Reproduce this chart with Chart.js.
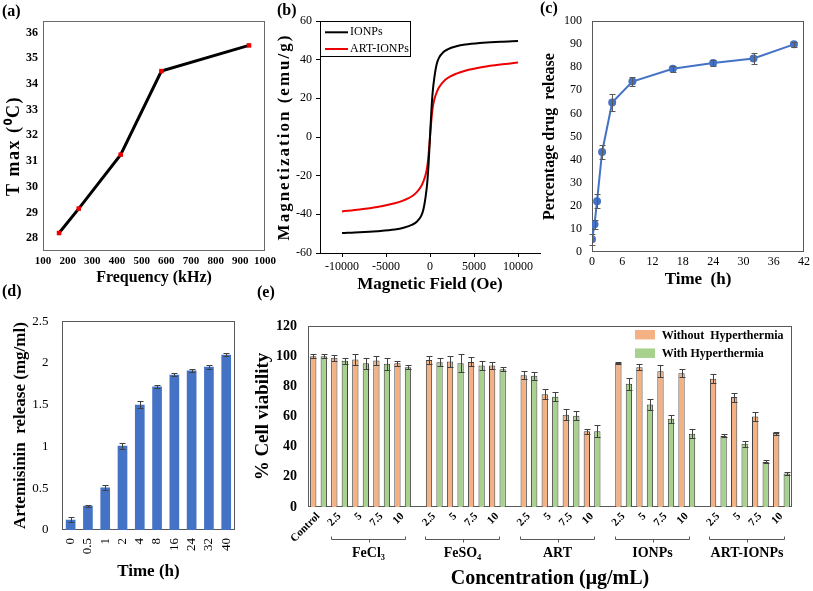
<!DOCTYPE html>
<html><head><meta charset="utf-8">
<script src="https://cdn.jsdelivr.net/npm/chart.js@4.4.1/dist/chart.umd.min.js"></script>
<style>
html,body{margin:0;padding:0;background:#fff}
#wrap{position:relative;width:813px;height:591px;overflow:hidden;background:#fff}
canvas{position:absolute}
.pl{position:absolute;font:bold 16px 'Liberation Serif',serif;line-height:16px;color:#000}
</style></head><body><div id="wrap">
<canvas id="cA" width="280" height="292" style="left:0;top:0"></canvas>
<canvas id="cB" width="272" height="300" style="left:270px;top:0"></canvas>
<canvas id="cC" width="273" height="300" style="left:540px;top:0"></canvas>
<canvas id="cD" width="250" height="291" style="left:0;top:300px"></canvas>
<canvas id="cE" width="563" height="291" style="left:250px;top:300px"></canvas>
<div class="pl" style="left:2px;top:3px">(a)</div>
<div class="pl" style="left:277px;top:2px">(b)</div>
<div class="pl" style="left:540px;top:0px">(c)</div>
<div class="pl" style="left:2px;top:283px">(d)</div>
<div class="pl" style="left:257px;top:284px">(e)</div>
</div>
<script>
// ---------- DATA ----------
// (a) Tmax vs frequency
const freqKHz = [165, 245, 415, 580, 935];
const tmaxC = [28.2, 29.15, 31.25, 34.5, 35.5];
const freqTicks = [100, 200, 300, 400, 500, 600, 700, 800, 900, 1000];
const tmaxTicks = [28, 29, 30, 31, 32, 33, 34, 35, 36];

// (b) magnetization curves
const seriesB = ['IONPs', 'ART-IONPs'];
const fieldOe = [-10000,-8000,-6000,-4000,-3000,-2000,-1500,-1000,-750,-500,-300,-150,0,150,300,500,750,1000,1500,2000,3000,4000,6000,8000,10000];
const magIONPs = [-49.7,-49.3,-48.7,-47.8,-46.9,-45.3,-43.8,-40.8,-37.5,-31,-23,-13,0,13,23,31,37.5,40.8,43.8,45.3,46.9,47.8,48.7,49.3,49.7];
const magArtIONPs = [-38.5,-37.5,-36.2,-34.3,-32.8,-30.5,-28.5,-25.5,-23,-19.5,-15,-8.5,0,8.5,15,19.5,23,25.5,28.5,30.5,32.8,34.3,36.2,37.5,38.5];
const fieldTicks = [-10000, -5000, 0, 5000, 10000];

// (c) percentage drug release
const releaseTimeH = [0, 0.5, 1, 2, 4, 8, 16, 24, 32, 40];
const releasePct = [5.5, 12, 22, 43.3, 64.7, 73.8, 79.3, 81.8, 83.8, 89.9];
const releasePctErr = [2.5, 2, 3, 3, 3.5, 1.8, 1.3, 1.3, 2.2, 1.2];

// (d) artemisinin release
const artTimeLabels = ['0','0.5','1','2','4','8','16','24','32','40'];
const artRelease = [0.124, 0.29, 0.51, 1.01, 1.50, 1.72, 1.86, 1.91, 1.955, 2.10];
const artReleaseErr = [0.03, 0.015, 0.03, 0.035, 0.04, 0.02, 0.015, 0.015, 0.025, 0.015];

// (e) cell viability
const seriesE = ['Without  Hyperthermia', 'With Hyperthermia'];
const controlLabel = 'Control';
const controlWithout = 100, controlWithoutErr = 1.5;
const controlWith = 100, controlWithErr = 1.5;
const viabGroups = ['FeCl₃', 'FeSO₄', 'ART', 'IONPs', 'ART-IONPs'];
const concLabels = ['2.5', '5', '7.5', '10'];
const viabWithout = [[99, 97.8, 97.1, 95.3], [97.4, 96.4, 96.2, 93.8], [87.4, 74.8, 61.2, 50.2], [95.5, 92.7, 90, 88.7], [85, 72.9, 60, 49]];
const viabWithoutErr = [[2, 3.5, 3, 1.5], [2.5, 3.5, 3, 2.5], [2.5, 3.5, 3.5, 1.5], [0.5, 2, 4, 2.5], [3, 3, 3, 1]];
const viabWith = [[96.9, 95.3, 94.9, 92.7], [96, 95.3, 93.8, 91.4], [87, 73.1, 60.5, 50.2], [81.7, 68, 58.5, 48.6], [47.1, 42, 29.9, 22.2]];
const viabWithErr = [[2, 3.5, 4, 1.5], [2.5, 6, 3, 1.5], [2.5, 3, 3, 4], [4, 3.5, 2.5, 3], [1, 2, 1, 1]];

// ---------- PLUGINS ----------
const FONT = 'Liberation Serif';
Chart.defaults.font.family = FONT;
Chart.defaults.color = '#000';
const f = (size, bold) => ({family: FONT, size: size, weight: bold ? 'bold' : 'normal'});
const plain = v => String(v);
const fixedTicks = arr => (s => { s.ticks = arr.map(v => ({value: v})); });

const framePlugin = {id: 'frame', beforeDatasetsDraw(chart, args, o) {
  if (!o || !o.color) return;
  const {left, top, right, bottom} = chart.chartArea, ctx = chart.ctx;
  ctx.save(); ctx.strokeStyle = o.color; ctx.lineWidth = 1;
  ctx.strokeRect(Math.round(left) + 0.5, Math.round(top) + 0.5, Math.round(right - left) - 1, Math.round(bottom - top) - 1);
  ctx.restore();
}};

const errPlugin = {id: 'errbars', afterDatasetsDraw(chart) {
  const ctx = chart.ctx;
  chart.data.datasets.forEach((ds, di) => {
    if (!ds.errors) return;
    const meta = chart.getDatasetMeta(di);
    const ys = chart.scales[meta.yAxisID];
    ctx.save(); ctx.strokeStyle = ds.errorColor || '#404040'; ctx.lineWidth = 1;
    meta.data.forEach((el, i) => {
      const v = ds.data[i], e = ds.errors[i];
      if (v == null || e == null) return;
      const val = typeof v === 'object' ? v.y : v;
      const x = Math.round(el.x) + 0.5;
      const y1 = Math.round(ys.getPixelForValue(val + e)) + 0.5, y2 = Math.round(ys.getPixelForValue(val - e)) + 0.5;
      const w = ds.capWidth || 3;
      ctx.beginPath();
      ctx.moveTo(x, y1); ctx.lineTo(x, y2);
      ctx.moveTo(x - w, y1); ctx.lineTo(x + w, y1);
      ctx.moveTo(x - w, y2); ctx.lineTo(x + w, y2);
      ctx.stroke();
    });
    ctx.restore();
  });
}};

const vtitlePlugin = {id: 'vtitle', afterDraw(chart, args, o) {
  if (!o || !o.text) return;
  const ctx = chart.ctx, a = chart.chartArea;
  ctx.save(); ctx.font = o.font; ctx.fillStyle = '#000';
  ctx.letterSpacing = (o.spacing || 0) + 'px';
  ctx.textAlign = 'center'; ctx.textBaseline = 'middle';
  ctx.translate(o.x, (a.top + a.bottom) / 2 + (o.dy || 0));
  ctx.rotate(-Math.PI / 2);
  ctx.fillText(o.text, 0, 0);
  ctx.restore();
}};

const legendPlugin = {id: 'boxlegend', afterDraw(chart, args, o) {
  if (!o || !o.kind) return;
  const ctx = chart.ctx;
  ctx.save();
  if (o.box) { ctx.strokeStyle = '#000'; ctx.lineWidth = 1; ctx.strokeRect(o.box[0], o.box[1], o.box[2], o.box[3]); }
  chart.data.datasets.forEach((ds, i) => {
    const y = o.y0 + i * o.dy;
    if (o.kind === 'line') {
      ctx.strokeStyle = ds.borderColor; ctx.lineWidth = 2;
      ctx.beginPath(); ctx.moveTo(o.x0, y); ctx.lineTo(o.x0 + o.sw, y); ctx.stroke();
    } else {
      ctx.fillStyle = ds.backgroundColor; ctx.fillRect(o.x0, y - o.sh / 2, o.sw, o.sh);
    }
    ctx.fillStyle = '#000'; ctx.font = o.font; ctx.textBaseline = 'middle'; ctx.textAlign = 'left';
    ctx.fillText(ds.label, o.x0 + o.sw + o.gap, y + (o.ty || 0));
  });
  ctx.restore();
}};

const bracketPlugin = {id: 'brackets', afterDraw(chart, args, o) {
  if (!o || !o.groups) return;
  const ctx = chart.ctx, xs = chart.scales.x;
  const slot = xs.getPixelForValue(1) - xs.getPixelForValue(0);
  ctx.save();
  o.groups.forEach(g => {
    const x1 = Math.round(xs.getPixelForValue(g.first) - 0.35 * slot) + 0.5;
    const x2 = Math.round(xs.getPixelForValue(g.last) - 0.3 * slot) + 0.5;
    const xc = Math.round((x1 + x2) / 2) + 0.5, y = Math.round(o.y) + 0.5;
    ctx.strokeStyle = '#595959'; ctx.lineWidth = 1;
    ctx.beginPath();
    ctx.moveTo(x1, y - 3); ctx.lineTo(x1, y); ctx.lineTo(x2, y); ctx.lineTo(x2, y - 3);
    ctx.moveTo(xc, y); ctx.lineTo(xc, y + 3);
    ctx.stroke();
    ctx.fillStyle = '#000'; ctx.font = o.font; ctx.textAlign = 'center'; ctx.textBaseline = 'middle';
    ctx.fillText(g.label, (x1 + x2) / 2, o.labelY);
  });
  ctx.restore();
}};

Chart.register(framePlugin, errPlugin, vtitlePlugin, legendPlugin, bracketPlugin);

const base = {responsive: false, animation: false, events: []};
const noLegend = {legend: {display: false}, tooltip: {enabled: false}};

// ---------- (a) ----------
new Chart(document.getElementById('cA'), {
  type: 'line',
  data: {datasets: [{
    data: freqKHz.map((x, i) => ({x: x, y: tmaxC[i]})),
    borderColor: '#000', borderWidth: 3, tension: 0,
    pointStyle: 'rect', pointRadius: 3.2, pointBorderWidth: 0,
    pointBackgroundColor: '#ee0000', pointBorderColor: '#ee0000'
  }]},
  options: Object.assign({}, base, {
    layout: {padding: {top: 21, right: 14, left: 0, bottom: 0}},
    plugins: Object.assign({}, noLegend, {
      frame: {color: '#6a6a6a'},
      vtitle: {text: 'T max (⁰C)', x: 14, dy: 10, font: 'bold 18px "Liberation Serif"', spacing: 1.5}
    }),
    scales: {
      x: {type: 'linear', min: 100, max: 1000,
        grid: {display: false, drawTicks: false}, border: {display: false},
        afterBuildTicks: fixedTicks(freqTicks),
        ticks: {autoSkip: false, maxRotation: 0, padding: 4, font: f(11, true), color: '#000', callback: plain},
        title: {display: true, text: 'Frequency (kHz)', font: f(16, true), color: '#000', padding: {top: 0, bottom: 5}},
        afterFit(s) { s.height = 41; }},
      y: {type: 'linear', min: 27.5, max: 36.45,
        grid: {display: false, drawTicks: false}, border: {display: false},
        afterBuildTicks: fixedTicks(tmaxTicks),
        ticks: {padding: 5, font: f(12, true), color: '#000', callback: plain},
        afterFit(s) { s.width = 43; }}
    }
  })
});

// ---------- (b) ----------
new Chart(document.getElementById('cB'), {
  type: 'line',
  data: {datasets: [
    {label: seriesB[0], data: fieldOe.map((x, i) => ({x: x, y: magIONPs[i]})), borderColor: '#000', borderWidth: 2, pointRadius: 0, cubicInterpolationMode: 'monotone'},
    {label: seriesB[1], data: fieldOe.map((x, i) => ({x: x, y: magArtIONPs[i]})), borderColor: '#ee0000', borderWidth: 2, pointRadius: 0, cubicInterpolationMode: 'monotone'}
  ]},
  options: Object.assign({}, base, {
    layout: {padding: {top: 21, right: 2, left: 0, bottom: 0}},
    plugins: Object.assign({}, noLegend, {
      vtitle: {text: 'Magnetization (emu/g)', x: 15, dy: 0, font: 'bold 17px "Liberation Serif"', spacing: 2},
      boxlegend: {kind: 'line', box: [50.5, 21.5, 90, 35], x0: 55, sw: 23, y0: 32.3, dy: 16.7, gap: 2, font: '12px "Liberation Serif"'}
    }),
    scales: {
      x: {type: 'linear', min: -12500, max: 12500,
        grid: {display: true, drawOnChartArea: false, drawTicks: true, tickLength: 4, color: '#000'},
        border: {display: true, color: '#000', width: 1},
        afterBuildTicks: fixedTicks(fieldTicks),
        ticks: {autoSkip: false, maxRotation: 0, padding: 3, font: f(12), color: '#000', callback: plain},
        title: {display: true, text: 'Magnetic Field (Oe)', font: f(17, true), color: '#000', padding: {top: 0, bottom: 5}},
        afterFit(s) { s.height = 47; }},
      y: {type: 'linear', min: -60, max: 60,
        grid: {display: true, drawOnChartArea: false, drawTicks: true, tickLength: 4, color: '#000'},
        border: {display: true, color: '#000', width: 1},
        ticks: {stepSize: 20, padding: 4, font: f(12), color: '#000', callback: plain},
        afterFit(s) { s.width = 50; }}
    }
  })
});

// ---------- (c) ----------
new Chart(document.getElementById('cC'), {
  type: 'line',
  data: {datasets: [{
    data: releaseTimeH.map((x, i) => ({x: x, y: releasePct[i]})),
    errors: releasePctErr, errorColor: '#595959', capWidth: 3,
    borderColor: '#4472C4', borderWidth: 2, tension: 0,
    pointStyle: 'circle', pointRadius: 3, pointBackgroundColor: '#4472C4', pointBorderColor: '#4472C4'
  }]},
  options: Object.assign({}, base, {
    layout: {padding: {top: 21, right: 7, left: 0, bottom: 0}},
    plugins: Object.assign({}, noLegend, {frame: {color: '#595959'}}),
    scales: {
      x: {type: 'linear', min: 0, max: 42,
        grid: {display: false, drawTicks: false}, border: {display: false},
        ticks: {stepSize: 6, autoSkip: false, maxRotation: 0, padding: 3, font: f(12), color: '#000', callback: plain},
        title: {display: true, text: 'Time  (h)', font: f(17, true), color: '#000', padding: {top: 0, bottom: 10}},
        afterFit(s) { s.height = 48; }},
      y: {type: 'linear', min: 0, max: 100,
        grid: {display: false, drawTicks: false}, border: {display: false},
        ticks: {stepSize: 10, padding: 10, font: f(12), color: '#000', callback: plain},
        title: {display: true, text: 'Percentage drug  release', font: f(16, true), color: '#000', padding: {top: 0, bottom: 0}},
        afterFit(s) { s.width = 52; }}
    }
  })
});

// ---------- (d) ----------
new Chart(document.getElementById('cD'), {
  type: 'bar',
  data: {labels: artTimeLabels, datasets: [{
    data: artRelease, errors: artReleaseErr, errorColor: '#404040', capWidth: 3,
    backgroundColor: '#4472C4', barPercentage: 0.56, categoryPercentage: 1
  }]},
  options: Object.assign({}, base, {
    layout: {padding: {top: 8, right: 4, left: 0, bottom: 0}},
    plugins: Object.assign({}, noLegend, {frame: {color: '#595959'}}),
    scales: {
      x: {grid: {display: false, drawTicks: false}, border: {display: false},
        ticks: {autoSkip: false, minRotation: 90, maxRotation: 90, padding: 8, font: f(13), color: '#000'},
        title: {display: true, text: 'Time (h)', font: f(17, true), color: '#000', padding: {top: 0, bottom: 9}},
        afterFit(s) { s.height = 61; }},
      y: {min: 0, max: 2.5,
        grid: {display: false, drawTicks: false}, border: {display: false},
        ticks: {stepSize: 0.5, padding: 13.5, font: f(13), color: '#000', callback: plain},
        title: {display: true, text: 'Artemisinin  release (mg/ml)', font: f(17, true), color: '#000', padding: {top: 10, bottom: 0}},
        afterFit(s) { s.width = 62; }}
    }
  })
});

// ---------- (e) ----------
const slotLabels = [], barsWithout = [], barsWith = [], errWithout = [], errWith = [], groupSpans = [];
function pushSlot(label, wo, ew, w, eW) { slotLabels.push(label); barsWithout.push(wo); errWithout.push(ew); barsWith.push(w); errWith.push(eW); }
pushSlot(controlLabel, controlWithout, controlWithoutErr, null, null);
pushSlot('', null, null, controlWith, controlWithErr);
viabGroups.forEach((g, gi) => {
  const first = slotLabels.length;
  concLabels.forEach((c, ci) => {
    pushSlot(c, viabWithout[gi][ci], viabWithoutErr[gi][ci], null, null);
    pushSlot('', null, null, viabWith[gi][ci], viabWithErr[gi][ci]);
  });
  groupSpans.push({label: g, first: first, last: slotLabels.length - 1});
  if (gi < viabGroups.length - 1) pushSlot('', null, null, null, null);
});

new Chart(document.getElementById('cE'), {
  type: 'bar',
  data: {labels: slotLabels, datasets: [
    {label: seriesE[0], data: barsWithout, errors: errWithout, errorColor: '#404040', capWidth: 3,
     backgroundColor: '#F4B183', borderColor: '#404040', borderWidth: 1, grouped: false, barPercentage: 0.6, categoryPercentage: 1},
    {label: seriesE[1], data: barsWith, errors: errWith, errorColor: '#404040', capWidth: 3,
     backgroundColor: '#A9D18E', borderColor: '#404040', borderWidth: 1, grouped: false, barPercentage: 0.6, categoryPercentage: 1}
  ]},
  options: Object.assign({}, base, {
    layout: {padding: {top: 26, right: 21, left: 0, bottom: 0}},
    plugins: Object.assign({}, noLegend, {
      frame: {color: '#595959'},
      boxlegend: {kind: 'rect', x0: 385, sw: 20, sh: 9.5, y0: 34.7, dy: 18.5, gap: 6.7, ty: 1, font: 'bold 12px "Liberation Serif"'},
      brackets: {groups: groupSpans, y: 239.3, labelY: 253, font: 'bold 14px "Liberation Serif"'}
    }),
    scales: {
      x: {grid: {display: false, drawTicks: false}, border: {display: false},
        ticks: {autoSkip: false, minRotation: 45, maxRotation: 45, padding: 3, labelOffset: 5, font: f(11, true), color: '#000'},
        title: {display: true, text: 'Concentration (μg/mL)', font: f(20, true), color: '#000', padding: {top: 0, bottom: 0}},
        afterFit(s) { s.height = 84; }},
      y: {min: 0, max: 120,
        grid: {display: false, drawTicks: false}, border: {display: false},
        ticks: {stepSize: 20, padding: 11, font: f(14, true), color: '#000', callback: plain},
        title: {display: true, text: '% Cell viability', font: f(19, true), color: '#000', padding: {top: 2, bottom: 0}},
        afterFit(s) { s.width = 58; }}
    }
  })
});
</script>
</body></html>
